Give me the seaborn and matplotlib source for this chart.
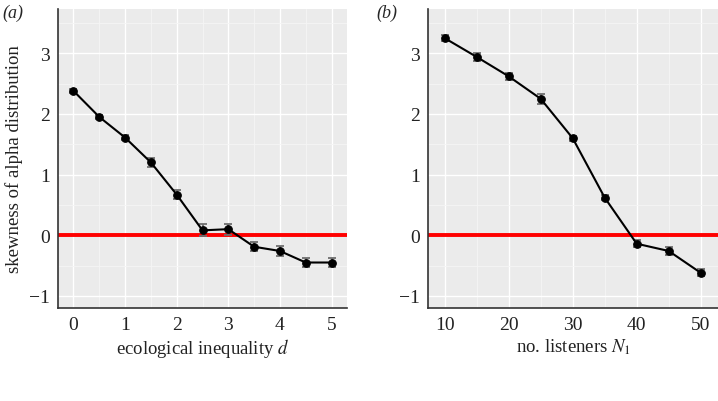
import numpy as np
import pandas as pd
import matplotlib
matplotlib.use('Agg')
import matplotlib.pyplot as plt
import seaborn as sns
from matplotlib.ticker import MultipleLocator

# panel (a): skewness vs ecological inequality d
d_vals = [0, 0.5, 1, 1.5, 2, 2.5, 3, 3.5, 4, 4.5, 5]
skew_a = [2.38, 1.95, 1.61, 1.20, 0.67, 0.08, 0.10, -0.19, -0.26, -0.45, -0.45]
err_a = [0.03, 0.03, 0.04, 0.08, 0.08, 0.10, 0.09, 0.07, 0.08, 0.08, 0.08]

# panel (b): skewness vs number of listeners
n_vals = [10, 15, 20, 25, 30, 35, 40, 45, 50]
skew_b = [3.25, 2.94, 2.62, 2.25, 1.60, 0.62, -0.14, -0.26, -0.62]
err_b = [0.05, 0.06, 0.06, 0.08, 0.04, 0.04, 0.06, 0.06, 0.06]

sns.set_theme(style='darkgrid')
plt.rcParams['font.family'] = ['Liberation Serif', 'DejaVu Serif']
plt.rcParams['mathtext.fontset'] = 'stix'

fig = plt.figure(figsize=(7.18, 4.02), dpi=100)
ax1 = fig.add_axes([58/718, 93/402, 289/718, 299/402])
ax2 = fig.add_axes([428/718, 93/402, 290/718, 299/402])

df_a = pd.DataFrame({'x': d_vals, 'y': skew_a, 'e': err_a})
df_b = pd.DataFrame({'x': n_vals, 'y': skew_b, 'e': err_b})

for ax, df, xlim, xmaj, xmin, xlabel in [
        (ax1, df_a, (-0.3, 5.3), 1, 0.5, 'ecological inequality $d$'),
        (ax2, df_b, (7.4, 52.7), 10, 5, 'no. listeners $N_1$')]:
    ax.set_facecolor('#EBEBEB')
    ax.axhline(0, color='#FF0000', lw=2.8, zorder=2)
    ax.errorbar(df['x'], df['y'], yerr=df['e'], fmt='none', ecolor='#6E6E6E',
                elinewidth=1.3, capsize=3, capthick=1.3, zorder=3)
    sns.lineplot(data=df, x='x', y='y', ax=ax, color='black', lw=1.5,
                 marker='o', markersize=5.5, markeredgecolor='black', zorder=4)
    ax.set_xlim(*xlim)
    ax.set_ylim(-1.2, 3.73)
    ax.xaxis.set_major_locator(MultipleLocator(xmaj))
    ax.xaxis.set_minor_locator(MultipleLocator(xmin))
    ax.yaxis.set_major_locator(MultipleLocator(1))
    ax.yaxis.set_minor_locator(MultipleLocator(0.5))
    ax.grid(which='major', color='white', lw=1.0)
    ax.grid(which='minor', color='#F5F5F5', lw=0.6)
    for s in ['top', 'right']:
        ax.spines[s].set_visible(False)
    for s in ['left', 'bottom']:
        ax.spines[s].set_visible(True)
        ax.spines[s].set_color('#333333')
        ax.spines[s].set_linewidth(1.2)
    ax.tick_params(which='major', length=3, width=0.8, color='#333333',
                   labelsize=14, labelcolor='#222222', pad=3)
    ax.tick_params(which='minor', length=0)
    ax.set_yticks([-1, 0, 1, 2, 3])
    ax.set_yticklabels(['\u22121', '0', '1', '2', '3'])
    ax.set_xlabel(xlabel, fontsize=13.5, color='#222222', labelpad=2)
    ax.set_ylabel('')

ax1.set_ylabel('skewness of alpha distribution', fontsize=13.5, color='#222222', labelpad=4)

fig.text(2/718, 1 - 13/402, '(a)', fontsize=13, style='italic', va='center', ha='left')
fig.text(376/718, 1 - 13/402, '(b)', fontsize=13, style='italic', va='center', ha='left')

fig.savefig('out.png', dpi=100)
